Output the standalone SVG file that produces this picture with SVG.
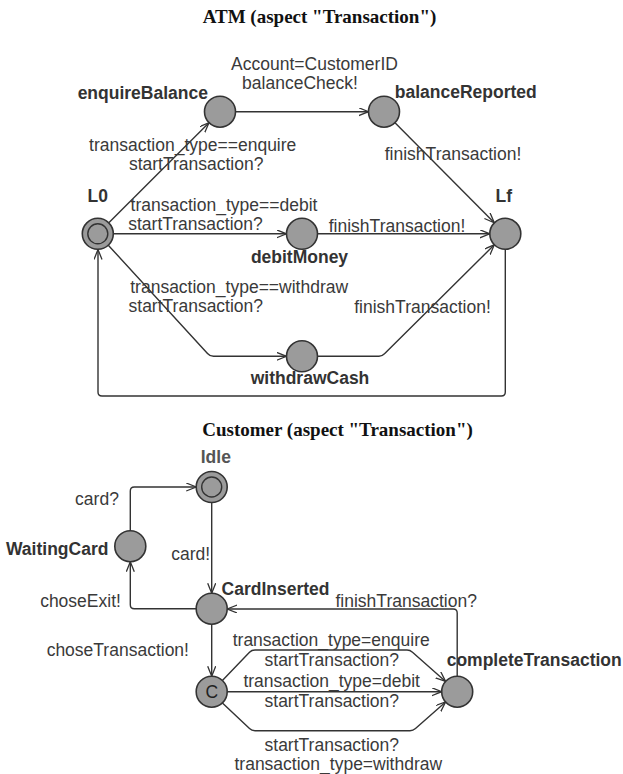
<svg xmlns="http://www.w3.org/2000/svg" width="623" height="774" viewBox="0 0 623 774">
<defs>
<marker id="arr" markerWidth="12" markerHeight="10" refX="10" refY="4" orient="auto" markerUnits="userSpaceOnUse">
<path d="M0,0 L10,4 L0,8" fill="none" stroke="#333" stroke-width="1.3"/>
</marker>
<style>
.title{font-family:"Liberation Serif","Times New Roman",serif;font-weight:bold;font-size:19px;fill:#111;text-anchor:middle}
.lbl{font-family:"Liberation Sans",Arial,sans-serif;font-size:17.5px;fill:#3a3a3a;text-anchor:middle}
.nm{font-family:"Liberation Sans",Arial,sans-serif;font-size:17.5px;font-weight:bold;fill:#333;text-anchor:middle}
.loc{fill:#9b9b9b;stroke:#333;stroke-width:1.6}
.inner{fill:none;stroke:#333;stroke-width:1.4}
.edge{fill:none;stroke:#333;stroke-width:1.4;marker-end:url(#arr)}
</style>
</defs>
<rect width="623" height="774" fill="#fff"/>
<text class="title" x="319.5" y="23">ATM (aspect "Transaction")</text>
<text class="title" x="337.5" y="436">Customer (aspect "Transaction")</text>

<g id="connectors">
<path class="edge" d="M108.8,222.8 L209,122.7"/>
<path class="edge" d="M235.5,111.7 L368.5,111.7"/>
<path class="edge" d="M395,122.7 L494.3,222.8"/>
<path class="edge" d="M113.3,233.8 L286.5,233.8"/>
<path class="edge" d="M317.5,233.8 L489.8,233.8"/>
<path class="edge" d="M108.3,245.2 L207.5,353.5 Q210,356.3 213.5,356.3 L286.5,356.3"/>
<path class="edge" d="M317.5,356.3 L379,356.3 Q382,356.3 384.5,353.8 L494.3,244.8"/>
<path class="edge" d="M505.3,249.3 L505.3,392 Q505.3,396 501.3,396 L102,396 Q98,396 98,392 L98,249.5"/>

<path class="edge" d="M130.3,530.7 L130.3,491 Q130.3,487 134.3,487 L196.2,487"/>
<path class="edge" d="M211.7,502.5 L211.7,593.2"/>
<path class="edge" d="M196.2,608.7 L134.3,608.7 Q130.3,608.7 130.3,604.7 L130.3,561.7"/>
<path class="edge" d="M211.7,624.2 L211.7,676.2"/>
<path class="edge" d="M457.2,676.2 L457.2,613 Q457.2,609 453.2,609 L227.2,609"/>
<path class="edge" d="M222.4,680.5 L249.5,652.2 Q251.7,650 255,650 L407,650 Q410,650 412.5,652.2 L445.6,681.4"/>
<path class="edge" d="M227.2,691.7 L441.7,691.7"/>
<path class="edge" d="M222.4,702.9 L249.5,728.5 Q251.7,730.7 255,730.7 L410,730.7 Q413,730.7 415.5,728.5 L445.6,702"/>
</g>

<g id="edge-labels">
<text class="lbl" x="314.5" y="70">Account=CustomerID</text>
<text class="lbl" x="300" y="89.3">balanceCheck!</text>
<text class="lbl" x="192.7" y="151">transaction_type==enquire</text>
<text class="lbl" x="196.2" y="170">startTransaction?</text>
<text class="lbl" x="453" y="160">finishTransaction!</text>
<text class="lbl" x="224" y="211">transaction_type==debit</text>
<text class="lbl" x="195.5" y="230">startTransaction?</text>
<text class="lbl" x="397" y="231.7">finishTransaction!</text>
<text class="lbl" x="239.2" y="293.3">transaction_type==withdraw</text>
<text class="lbl" x="195.8" y="312.3">startTransaction?</text>
<text class="lbl" x="422.5" y="312.7">finishTransaction!</text>

<text class="lbl" x="97" y="505">card?</text>
<text class="lbl" x="190.7" y="560">card!</text>
<text class="lbl" x="406.2" y="606.7">finishTransaction?</text>
<text class="lbl" x="80.5" y="607">choseExit!</text>
<text class="lbl" x="117.8" y="656">choseTransaction!</text>
<text class="lbl" x="331.2" y="646">transaction_type=enquire</text>
<text class="lbl" x="331.8" y="666">startTransaction?</text>
<text class="lbl" x="331.7" y="686.7">transaction_type=debit</text>
<text class="lbl" x="331.8" y="706.7">startTransaction?</text>
<text class="lbl" x="331.8" y="751">startTransaction?</text>
<text class="lbl" x="338.3" y="770">transaction_type=withdraw</text>
</g>

<g id="L0"><circle class="loc" cx="97.8" cy="233.8" r="15.5"/><circle class="inner" cx="97.8" cy="233.8" r="10"/><text class="nm" x="97.7" y="202">L0</text></g>
<g id="enquireBalance"><circle class="loc" cx="220" cy="111.7" r="15.5"/><text class="nm" x="142.8" y="99">enquireBalance</text></g>
<g id="balanceReported"><circle class="loc" cx="384" cy="111.7" r="15.5"/><text class="nm" x="465.7" y="98.3">balanceReported</text></g>
<g id="debitMoney"><circle class="loc" cx="302" cy="233.8" r="15.5"/><text class="nm" x="299.5" y="262.7">debitMoney</text></g>
<g id="Lf"><circle class="loc" cx="505.3" cy="233.8" r="15.5"/><text class="nm" x="503.8" y="202">Lf</text></g>
<g id="withdrawCash"><circle class="loc" cx="302" cy="356.3" r="15.5"/><text class="nm" x="310" y="384">withdrawCash</text></g>

<g id="Idle"><circle class="loc" cx="211.7" cy="487" r="15.5"/><circle class="inner" cx="211.7" cy="487" r="10"/><text class="nm" x="215.8" y="463.3" style="fill:#555">Idle</text></g>
<g id="WaitingCard"><circle class="loc" cx="130.3" cy="546.2" r="15.5"/><text class="nm" x="57.2" y="555">WaitingCard</text></g>
<g id="CardInserted"><circle class="loc" cx="211.7" cy="608.7" r="15.5"/><text class="nm" x="275.5" y="595">CardInserted</text></g>
<g id="C"><circle class="loc" cx="211.7" cy="691.7" r="15.5"/><text class="lbl" x="211.7" y="698" style="fill:#222">C</text></g>
<g id="completeTransaction"><circle class="loc" cx="457.2" cy="691.7" r="15.5"/><text class="nm" x="534.2" y="665.7">completeTransaction</text></g>
</svg>
